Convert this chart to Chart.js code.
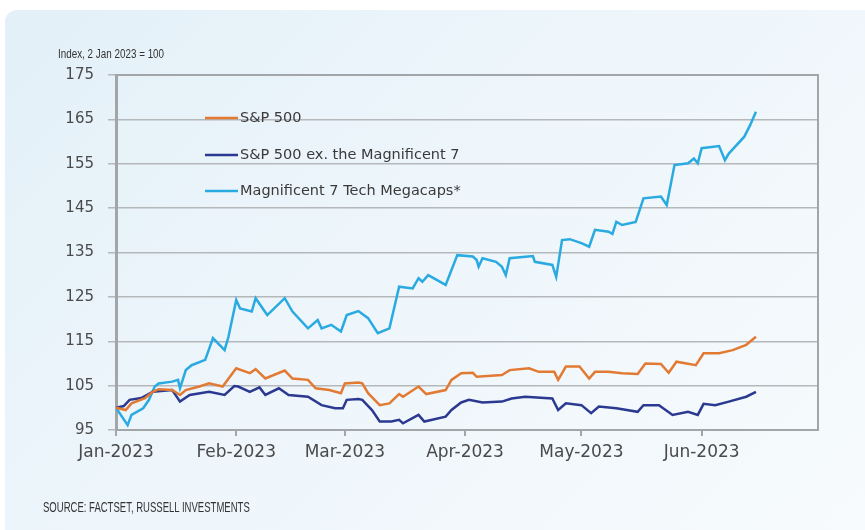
<!DOCTYPE html>
<html>
<head>
<meta charset="utf-8">
<script src="https://cdn.jsdelivr.net/npm/chart.js@4.4.1/dist/chart.umd.min.js"></script>
<style>
  html, body { margin: 0; padding: 0; background: #ffffff; }
  body { width: 865px; height: 530px; position: relative; overflow: hidden; }
  .card {
    position: absolute; left: 5px; top: 10px; width: 900px; height: 560px;
    border-radius: 12px;
    background: linear-gradient(135deg, #e3f0f8 0%, #eef6fb 45%, #f8fbfd 100%);
  }
  #chart { position: absolute; left: 0; top: 0; }
  .unit, .source {
    position: absolute; white-space: nowrap; transform-origin: left center;
    font-family: "Liberation Sans", Arial, sans-serif; color: #333;
  }
  .unit { left: 58px; top: 47px; font-size: 12px; }
  .source { left: 43px; top: 499px; font-size: 14px; }
</style>
</head>
<body>
<div class="card"></div>
<canvas id="chart" width="865" height="530"></canvas>
<div class="unit" data-w="106">Index, 2 Jan 2023 = 100</div>
<div class="source" data-w="207">SOURCE: FACTSET, RUSSELL INVESTMENTS</div>
<script>
// days counted from 1 Jan 2023
const monthDays = [0, 31, 59, 90, 120, 151];
const monthLabels = ['Jan-2023', 'Feb-2023', 'Mar-2023', 'Apr-2023', 'May-2023', 'Jun-2023'];
const yTicks = [95, 105, 115, 125, 135, 145, 155, 165, 175];

// S&P 500
const spDays = [0, 2.5, 4, 7.5, 9.5, 11, 14.5, 16.5, 18, 21.5, 24, 27.5, 31, 34.5, 36, 38.5, 43.5, 45.5, 49.5, 51.5, 55, 58, 59, 62.5, 63.5, 65, 68, 70.5, 73, 74, 78, 80, 85, 86.5, 89, 92, 93, 99.5, 101.5, 106.5, 109, 113, 114, 116, 119.5, 122, 123.5, 127, 130.5, 134.5, 136.5, 140.5, 142.5, 144.5, 149.5, 151.5, 155.5, 159, 162.5, 165];
const spVals = [100, 99.5, 101, 102.2, 103.6, 104.2, 104, 102.9, 104, 104.8, 105.5, 104.8, 108.9, 107.8, 108.7, 106.6, 108.4, 106.6, 106.3, 104.4, 104, 103.3, 105.5, 105.7, 105.5, 103.3, 100.6, 101, 103.1, 102.5, 104.8, 103.1, 104, 106.3, 107.8, 107.9, 107, 107.4, 108.5, 108.9, 108.1, 108.1, 106.3, 109.3, 109.3, 106.6, 108.1, 108.1, 107.8, 107.6, 110, 109.9, 107.9, 110.4, 109.6, 112.3, 112.3, 113, 114.2, 116];

// S&P 500 ex. the Magnificent 7
const exDays = [0, 2, 3.5, 6.5, 9.5, 14.5, 16.5, 19, 24, 28, 30.5, 31.5, 34.5, 37, 38.5, 42, 44.5, 49.5, 53, 56.5, 58.5, 59.5, 62.5, 63.5, 66, 68, 71, 73, 74, 78, 79.5, 85, 86.5, 89, 91, 94.5, 99.5, 102, 105.5, 112.5, 114, 116, 120, 122.5, 124.5, 129, 134.5, 136, 140, 143.5, 147.5, 150, 151.5, 154.5, 158, 162.5, 165];
const exVals = [100, 100.4, 101.8, 102.2, 103.6, 104, 101.4, 102.9, 103.6, 102.9, 104.9, 104.8, 103.6, 104.6, 102.9, 104.4, 102.9, 102.5, 100.6, 99.9, 99.9, 101.8, 102, 101.8, 99.5, 96.9, 96.9, 97.3, 96.5, 98.4, 96.9, 98, 99.5, 101.2, 101.8, 101.2, 101.4, 102.1, 102.5, 102.1, 99.5, 101, 100.6, 98.8, 100.3, 99.9, 99.1, 100.6, 100.6, 98.4, 99.1, 98.4, 100.9, 100.6, 101.4, 102.5, 103.6];

// Magnificent 7 Tech Megacaps*
const magDays = [0, 3, 4, 7, 8.5, 10, 11, 14.5, 16, 16.5, 18, 19.5, 23, 25, 28, 29, 31, 32, 35, 36, 39, 43.5, 45.5, 49.5, 52, 53, 55.5, 58, 59.5, 62.5, 65, 67.5, 70.5, 73, 76.5, 78, 79, 80.5, 85, 88, 92, 93, 93.5, 94.5, 98, 99.5, 100.5, 101.5, 107.5, 108, 112.5, 113.5, 115, 117, 120, 122, 123.5, 127, 128, 129, 130.5, 134, 136, 140.5, 142, 144, 147.5, 149, 150, 151, 155.5, 157, 158, 162, 163.5, 165];
const magVals = [100, 96.1, 98.4, 99.9, 101.8, 104.8, 105.5, 105.9, 106.3, 104.4, 108.5, 109.6, 110.8, 115.7, 113, 116, 124.3, 122.4, 121.7, 124.7, 120.9, 124.7, 121.7, 117.9, 119.8, 117.9, 118.7, 117.2, 120.9, 121.8, 120.2, 116.8, 117.9, 127.3, 126.9, 129.2, 128.4, 129.9, 127.7, 134.4, 134.1, 133.3, 131.8, 133.7, 132.9, 131.8, 129.9, 133.7, 134.2, 132.9, 132.2, 129.5, 137.8, 138, 137.1, 136.3, 140.1, 139.7, 139.2, 141.9, 141.2, 141.9, 147.2, 147.6, 145.7, 154.7, 155.1, 156.2, 155.1, 158.5, 159, 155.8, 157.3, 161.1, 163.7, 166.7];

const seriesNames = ['S&P 500', 'S&P 500 ex. the Magnificent 7', 'Magnificent 7 Tech Megacaps*'];
const seriesColors = ['#e27a34', '#2b3990', '#29aae1'];

// squeeze the condensed captions to the width they take in the original
document.querySelectorAll('[data-w]').forEach(el => {
    const k = Number(el.dataset.w) / el.offsetWidth;
    el.style.transform = 'scaleX(' + k + ')';
});

function toPoints(days, vals) {
    return days.map((d, i) => ({ x: d, y: vals[i] }));
}

const gridColor = '#b5b8bb';
const axisColor = '#a3a6a9';

// legend drawn inside the plot, plus the plot frame
const frameAndLegend = {
    id: 'frameAndLegend',
    afterDraw(chart) {
        const ctx = chart.ctx;
        const a = chart.chartArea;
        ctx.save();
        ctx.strokeStyle = axisColor;
        ctx.lineWidth = 2;
        ctx.beginPath();
        ctx.moveTo(a.left, a.top);
        ctx.lineTo(a.right, a.top);
        ctx.lineTo(a.right, a.bottom);
        ctx.stroke();

        ctx.font = '14.5px "DejaVu Sans", sans-serif';
        ctx.textBaseline = 'middle';
        const legendY = [118, 155, 191];
        seriesNames.forEach((name, i) => {
            const y = legendY[i];
            ctx.strokeStyle = seriesColors[i];
            ctx.lineWidth = 2.5;
            ctx.beginPath();
            ctx.moveTo(205, y);
            ctx.lineTo(238, y);
            ctx.stroke();
            ctx.fillStyle = '#3a3a3a';
            ctx.fillText(name, 240, y);
        });
        ctx.restore();
    }
};

const ctx = document.getElementById('chart').getContext('2d');
const chart = new Chart(ctx, {
    type: 'line',
    data: {
        datasets: [
            { label: seriesNames[0], data: toPoints(spDays, spVals), borderColor: seriesColors[0] },
            { label: seriesNames[1], data: toPoints(exDays, exVals), borderColor: seriesColors[1] },
            { label: seriesNames[2], data: toPoints(magDays, magVals), borderColor: seriesColors[2] }
        ]
    },
    options: {
        responsive: false,
        animation: false,
        layout: { padding: { top: 75, right: 47, left: 0, bottom: 0 } },
        elements: {
            point: { radius: 0 },
            line: { borderWidth: 2.5, tension: 0 }
        },
        plugins: {
            legend: { display: false },
            tooltip: { enabled: false }
        },
        scales: {
            x: {
                type: 'linear',
                min: 0,
                max: 181,
                afterBuildTicks: (scale) => { scale.ticks = monthDays.map(v => ({ value: v })); },
                afterFit: (scale) => { scale.height = 100; },
                ticks: {
                    callback: (v) => monthLabels[monthDays.indexOf(v)],
                    font: { family: 'DejaVu Sans', size: 17 },
                    color: '#4a4a4a',
                    padding: 6,
                    maxRotation: 0,
                    autoSkip: false
                },
                grid: { drawOnChartArea: false, drawTicks: true, tickLength: 6, color: axisColor, lineWidth: 2 },
                border: { color: axisColor, width: 2 }
            },
            y: {
                min: 95,
                max: 175,
                afterBuildTicks: (scale) => { scale.ticks = yTicks.map(v => ({ value: v })); },
                afterFit: (scale) => { scale.width = 116; },
                ticks: {
                    font: { family: 'DejaVu Sans', size: 15 },
                    color: '#4a4a4a',
                    padding: 14
                },
                grid: { color: gridColor, lineWidth: 1.5, tickLength: 8 },
                border: { color: axisColor, width: 3 }
            }
        }
    },
    plugins: [frameAndLegend]
});
</script>
</body>
</html>
